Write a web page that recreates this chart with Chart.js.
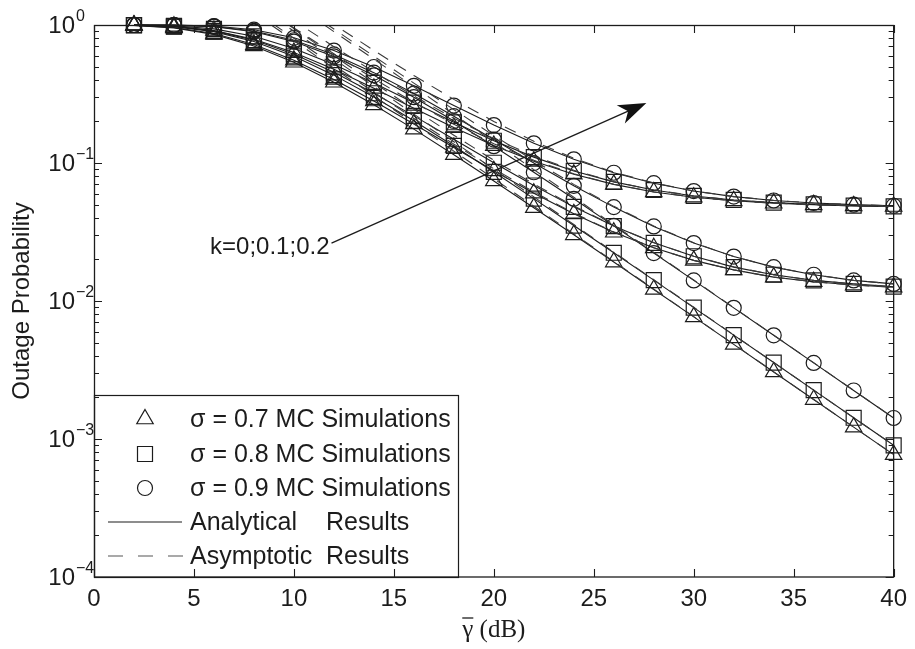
<!DOCTYPE html>
<html><head><meta charset="utf-8">
<script src="https://cdn.jsdelivr.net/npm/chart.js@4.4.1/dist/chart.umd.min.js"></script>
<style>html,body{margin:0;padding:0;background:#fff}#c{display:block}</style>
</head><body>
<canvas id="c" width="915" height="649"></canvas>
<script>
// ---------- data ----------
const snr = [2,4,6,8,10,12,14,16,18,20,22,24,26,28,30,32,34,36,38,40];

// analytical results (MC simulation markers lie on these)
const ana_k0_s07  = [0.9922,0.9534,0.8554,0.7048,0.5370,0.3848,0.2640,0.1759,0.1149,0.0741,0.04742,0.03019,0.01915,0.01213,0.00767,0.004846,0.00306,0.001932,0.001219,0.00077];
const ana_k0_s08  = [0.9966,0.9722,0.8958,0.7598,0.5934,0.4332,0.3012,0.2023,0.1329,0.0861,0.0552,0.0352,0.02236,0.01416,0.00896,0.00566,0.00358,0.00226,0.001425,0.0009];
const ana_k0_s09  = [0.9999,0.9965,0.9718,0.8946,0.7583,0.5918,0.4318,0.3000,0.2015,0.1324,0.0857,0.0550,0.03504,0.02225,0.0141,0.00892,0.00564,0.00356,0.002247,0.00142];
const ana_k01_s07 = [0.9937,0.9591,0.8676,0.7219,0.5560,0.4034,0.2813,0.1918,0.1295,0.0878,0.0604,0.0428,0.0315,0.0243,0.0197,0.0168,0.0149,0.0138,0.01305,0.01259];
const ana_k01_s08 = [0.9974,0.9766,0.9068,0.7773,0.6140,0.4539,0.3203,0.2196,0.1486,0.1004,0.0687,0.0481,0.0349,0.0264,0.0211,0.0176,0.0155,0.0141,0.0133,0.0127];
const ana_k01_s09 = [0.9999,0.9973,0.9760,0.9053,0.7751,0.6116,0.4517,0.3186,0.2183,0.1478,0.0999,0.0683,0.0479,0.0347,0.0263,0.0210,0.0176,0.0155,0.0141,0.0133];
const ana_k02_s07 = [0.9976,0.9783,0.9124,0.7887,0.6317,0.4770,0.3474,0.2496,0.1807,0.1338,0.1029,0.0829,0.0700,0.0617,0.0565,0.0532,0.0511,0.0498,0.0489,0.0484];
const ana_k02_s08 = [0.9990,0.9871,0.9369,0.8281,0.6765,0.5181,0.3803,0.2738,0.1973,0.1450,0.1103,0.0876,0.0730,0.0637,0.0577,0.0540,0.0516,0.0501,0.0491,0.0485];
const ana_k02_s09 = [1.0000,0.9984,0.9829,0.9246,0.8077,0.6528,0.4962,0.3627,0.2609,0.1884,0.1389,0.1063,0.0850,0.0714,0.0626,0.0571,0.0535,0.0513,0.0499,0.0490];

// asymptotic results
const asy_k0_s07  = [4.858,3.065,1.934,1.220,0.770,0.4858,0.3065,0.1934,0.1220,0.0770,0.04858,0.03065,0.01934,0.0122,0.0077,0.004858,0.003065,0.001934,0.00122,0.00077];
const asy_k0_s08  = [5.678,3.583,2.261,1.426,0.900,0.5678,0.3583,0.2261,0.1426,0.0900,0.05678,0.03583,0.02261,0.01426,0.0090,0.005678,0.003583,0.002261,0.001426,0.0009];
const asy_k0_s09  = [8.96,5.653,3.567,2.250,1.420,0.8959,0.5653,0.3567,0.2250,0.1420,0.0896,0.05653,0.03567,0.0225,0.0142,0.00896,0.005653,0.003567,0.00225,0.00142];
const asy_k01_s07 = [4.999,3.159,1.998,1.265,0.8024,0.5105,0.3265,0.2104,0.1371,0.0909,0.0617,0.0433,0.0317,0.0243,0.0197,0.0168,0.0149,0.0138,0.01305,0.0126];
const asy_k01_s08 = [5.873,3.710,2.345,1.484,0.9407,0.5979,0.3816,0.2451,0.1590,0.1047,0.0704,0.0488,0.0351,0.0265,0.0211,0.0177,0.0155,0.0141,0.0133,0.0127];
const asy_k01_s09 = [9.240,5.834,3.686,2.329,1.4743,0.9346,0.5940,0.3792,0.2435,0.1581,0.1041,0.0700,0.0485,0.0350,0.0264,0.0210,0.0176,0.0155,0.0141,0.0133];
const asy_k02_s07 = [5.757,3.650,2.320,1.482,0.9524,0.6184,0.4077,0.2748,0.1909,0.1380,0.1046,0.0835,0.0702,0.0618,0.0566,0.0532,0.0511,0.0498,0.0489,0.0484];
const asy_k02_s08 = [6.538,4.142,2.632,1.678,1.0762,0.6965,0.4570,0.3059,0.2106,0.1504,0.1124,0.0885,0.0733,0.0638,0.0578,0.0540,0.0516,0.0501,0.0491,0.0485];
const asy_k02_s09 = [9.659,6.114,3.876,2.463,1.5715,1.0086,0.6541,0.4303,0.2891,0.1999,0.1436,0.1082,0.0858,0.0717,0.0627,0.0571,0.0536,0.0513,0.0499,0.0490];

const xTickValues = [0,5,10,15,20,25,30,35,40];
const yDecades = [0,-1,-2,-3,-4];
const legendTexts = ['σ = 0.7 MC Simulations','σ = 0.8 MC Simulations','σ = 0.9 MC Simulations'];
const legendAnalytical = ['Analytical','Results'];
const legendAsymptotic = ['Asymptotic','Results'];
const kLabel = 'k=0;0.1;0.2';
const yTitle = 'Outage Probability';
const xTitle = ['γ','(dB)'];
// arrow annotation in data coordinates
const arrowFrom = {x: 11.88, y: 0.0263};
const arrowTo = {x: 27.63, y: 0.272};
const kLabelPos = {x: 11.78, y: 0.0246};

// ---------- styling ----------
const INK = '#1c1c1c';
const SANS = "'Liberation Sans', Arial, sans-serif";
const SERIF = "'Liberation Serif', 'Times New Roman', serif";
const marker = {
  tri: {pointStyle:'triangle', radius:9.5},
  sq:  {pointStyle:'rect', radius:10.6},
  ci:  {pointStyle:'circle', radius:7.5}
};

const toXY = arr => arr.map((v,i) => ({x: snr[i], y: v}));

function dashed(arr){
  return {data: toXY(arr), borderColor:'#3a3a3a', borderWidth:1.1, borderDash:[12,9], pointRadius:0, fill:false, tension:0};
}
function solid(arr, m){
  return {data: toXY(arr), borderColor:INK, borderWidth:1.1, pointStyle:m.pointStyle, pointRadius:m.radius,
    pointBorderColor:INK, pointBackgroundColor:'rgba(0,0,0,0)', pointBorderWidth:1.2, fill:false, tension:0, clip:false};
}

const datasets = [
  dashed(asy_k0_s07), dashed(asy_k0_s08), dashed(asy_k0_s09),
  dashed(asy_k01_s07), dashed(asy_k01_s08), dashed(asy_k01_s09),
  dashed(asy_k02_s07), dashed(asy_k02_s08), dashed(asy_k02_s09),
  solid(ana_k0_s07, marker.tri), solid(ana_k0_s08, marker.sq), solid(ana_k0_s09, marker.ci),
  solid(ana_k01_s07, marker.tri), solid(ana_k01_s08, marker.sq), solid(ana_k01_s09, marker.ci),
  solid(ana_k02_s07, marker.tri), solid(ana_k02_s08, marker.sq), solid(ana_k02_s09, marker.ci)
];

function drawMarker(ctx, m, x, y){
  ctx.beginPath();
  const r = m.radius;
  if (m.pointStyle === 'triangle'){
    ctx.moveTo(x, y - r);
    ctx.lineTo(x + Math.sin(2*Math.PI/3)*r, y - Math.cos(2*Math.PI/3)*r);
    ctx.lineTo(x + Math.sin(4*Math.PI/3)*r, y - Math.cos(4*Math.PI/3)*r);
    ctx.closePath();
  } else if (m.pointStyle === 'rect'){
    const s = Math.SQRT1_2*r;
    ctx.rect(x - s, y - s, 2*s, 2*s);
  } else {
    ctx.arc(x, y, r, 0, 2*Math.PI);
  }
  ctx.stroke();
}

const deco = {
  id: 'deco',
  afterDatasetsDraw(chart){
    const ctx = chart.ctx, xs = chart.scales.x, ys = chart.scales.y;
    ctx.save();
    // arrow
    const x1 = xs.getPixelForValue(arrowFrom.x), y1 = ys.getPixelForValue(arrowFrom.y);
    const x2 = xs.getPixelForValue(arrowTo.x), y2 = ys.getPixelForValue(arrowTo.y);
    const ang = Math.atan2(y2 - y1, x2 - x1);
    const L = 28, W = 10, notch = 20;
    const bx = x2 - L*Math.cos(ang), by = y2 - L*Math.sin(ang);
    ctx.strokeStyle = INK; ctx.lineWidth = 1.3;
    ctx.beginPath(); ctx.moveTo(x1, y1);
    ctx.lineTo(x2 - notch*Math.cos(ang), y2 - notch*Math.sin(ang)); ctx.stroke();
    ctx.fillStyle = '#111';
    ctx.beginPath();
    ctx.moveTo(x2, y2);
    ctx.lineTo(bx + W*Math.sin(ang), by - W*Math.cos(ang));
    ctx.lineTo(x2 - notch*Math.cos(ang), y2 - notch*Math.sin(ang));
    ctx.lineTo(bx - W*Math.sin(ang), by + W*Math.cos(ang));
    ctx.closePath(); ctx.fill();
    // k label
    ctx.fillStyle = INK;
    ctx.font = '24px ' + SANS;
    ctx.textAlign = 'right'; ctx.textBaseline = 'middle';
    ctx.fillText(kLabel, xs.getPixelForValue(kLabelPos.x), ys.getPixelForValue(kLabelPos.y));

    // legend
    const ca = chart.chartArea;
    const lx = ca.left, ly = 395, lw = 364, lh = ca.bottom - 395;
    ctx.fillStyle = '#fff';
    ctx.fillRect(lx, ly, lw, lh);
    ctx.strokeStyle = INK; ctx.lineWidth = 1.2;
    ctx.strokeRect(lx + 0.5, ly + 0.5, lw, lh);
    const rows = [419, 454, 488, 522, 556];
    const ms = [marker.tri, marker.sq, marker.ci];
    ctx.lineWidth = 1.2;
    for (let i = 0; i < 3; i++){
      drawMarker(ctx, ms[i], 145, rows[i]);
    }
    ctx.fillStyle = INK; ctx.font = '25px ' + SANS;
    ctx.textAlign = 'left'; ctx.textBaseline = 'middle';
    for (let i = 0; i < 3; i++) ctx.fillText(legendTexts[i], 190, rows[i] + 1);
    ctx.fillText(legendAnalytical[0], 190, rows[3] + 1);
    ctx.fillText(legendAnalytical[1], 326, rows[3] + 1);
    ctx.fillText(legendAsymptotic[0], 190, rows[4] + 1);
    ctx.fillText(legendAsymptotic[1], 326, rows[4] + 1);
    ctx.strokeStyle = INK; ctx.lineWidth = 1.1;
    ctx.beginPath(); ctx.moveTo(108, rows[3]); ctx.lineTo(182, rows[3]); ctx.stroke();
    ctx.strokeStyle = '#555'; ctx.setLineDash([15,15]);
    ctx.beginPath(); ctx.moveTo(108, rows[4]); ctx.lineTo(183, rows[4]); ctx.stroke();
    ctx.setLineDash([]);
    ctx.restore();
  },
  afterDraw(chart){
    const ctx = chart.ctx, xs = chart.scales.x, ys = chart.scales.y, ca = chart.chartArea;
    ctx.save();
    ctx.strokeStyle = INK; ctx.lineWidth = 1.3;
    // axes box
    ctx.strokeRect(ca.left + 0.5, ca.top + 0.5, ca.right - ca.left - 0.5, ca.bottom - ca.top - 0.5);
    // x ticks (inward, bottom and top)
    ctx.lineWidth = 1.1;
    ctx.beginPath();
    xTickValues.forEach(v => {
      const px = Math.round(xs.getPixelForValue(v)) + 0.5;
      ctx.moveTo(px, ca.bottom); ctx.lineTo(px, ca.bottom - 8);
      ctx.moveTo(px, ca.top); ctx.lineTo(px, ca.top + 8);
    });
    // y ticks
    yDecades.forEach(e => {
      const base = Math.pow(10, e);
      const py = Math.round(ys.getPixelForValue(base)) + 0.5;
      ctx.moveTo(ca.left, py); ctx.lineTo(ca.left + 8, py);
      ctx.moveTo(ca.right, py); ctx.lineTo(ca.right - 8, py);
      if (e < 0) {
        for (let m = 2; m <= 9; m++){
          const q = Math.round(ys.getPixelForValue(base*m)) + 0.5;
          ctx.moveTo(ca.left, q); ctx.lineTo(ca.left + 5, q);
          ctx.moveTo(ca.right, q); ctx.lineTo(ca.right - 5, q);
        }
      }
    });
    ctx.stroke();
    // y tick labels 10^n
    ctx.fillStyle = INK;
    yDecades.forEach(e => {
      const py = ys.getPixelForValue(Math.pow(10, e));
      ctx.font = '24px ' + SANS; ctx.textAlign = 'right'; ctx.textBaseline = 'middle';
      ctx.fillText('10', 75, py + 1);
      ctx.font = '16px ' + SANS; ctx.textAlign = 'left'; ctx.textBaseline = 'alphabetic';
      ctx.fillText(e === 0 ? '0' : '\u2212' + Math.abs(e), 76, py - 4);
    });
    // y title
    ctx.save();
    ctx.translate(22, (ca.top + ca.bottom)/2);
    ctx.rotate(-Math.PI/2);
    ctx.font = '24px ' + SANS; ctx.textAlign = 'center'; ctx.textBaseline = 'middle';
    ctx.fillText(yTitle, 0, 0);
    ctx.restore();
    // x title: gamma with overline + (dB)
    ctx.font = '25px ' + SERIF; ctx.textBaseline = 'alphabetic'; ctx.textAlign = 'left';
    const g = xTitle[0], rest = ' ' + xTitle[1];
    const wg = ctx.measureText(g).width, wr = ctx.measureText(rest).width;
    const cx = (ca.left + ca.right)/2;
    const sx = cx - (wg + wr)/2, by = 637;
    ctx.fillText(g, sx, by);
    ctx.fillText(rest, sx + wg, by);
    ctx.lineWidth = 1.3;
    ctx.beginPath(); ctx.moveTo(sx, by - 19); ctx.lineTo(sx + wg, by - 19); ctx.stroke();
    ctx.restore();
  }
};

new Chart(document.getElementById('c').getContext('2d'), {
  type: 'line',
  data: { datasets },
  options: {
    responsive: false, animation: false, devicePixelRatio: 1,
    layout: { padding: { top: 25, right: 16, left: 0, bottom: 0 } },
    scales: {
      x: { type: 'linear', min: 0, max: 40,
        afterBuildTicks: s => { s.ticks = xTickValues.map(v => ({value: v})); },
        ticks: { font: {family: SANS, size: 24}, color: INK, padding: 8, maxRotation: 0, autoSkip: false },
        grid: { display: false, drawTicks: false }, border: { display: false },
        afterFit: s => { s.height = 72; } },
      y: { type: 'logarithmic', min: 1e-4, max: 1,
        ticks: { display: false },
        grid: { display: false, drawTicks: false }, border: { display: false },
        afterFit: s => { s.width = 94; } }
    },
    plugins: { legend: { display: false }, tooltip: { enabled: false } }
  },
  plugins: [deco]
});
</script>
</body></html>
